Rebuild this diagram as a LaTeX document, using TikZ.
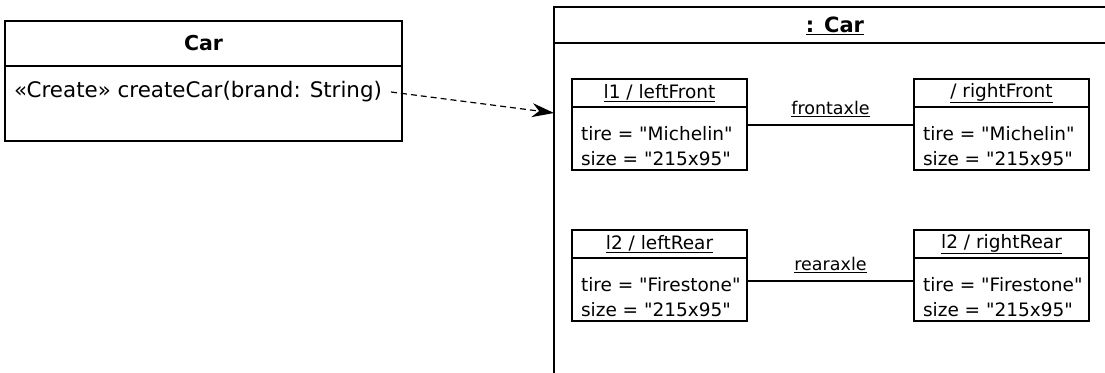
\documentclass[tikz,border=0pt]{standalone}
\usepackage{fontspec}
\newfontfamily\umlfont{DejaVu Sans}
\usetikzlibrary{arrows.meta,positioning}

\begin{document}
\begin{tikzpicture}[
    x=1pt, y=-1pt,
    every node/.style={font=\umlfont\fontsize{18.5}{25}\selectfont, outer sep=0pt},
    classhead/.style={draw=black, line width=1.5pt, minimum width=397pt, minimum height=45pt, inner sep=0pt, font=\umlfont\fontsize{20.5}{24}\selectfont\bfseries},
    classbody/.style={draw=black, line width=1.5pt, minimum width=397pt, minimum height=75pt, inner sep=0pt},
    objhead/.style={draw=black, line width=1.5pt, minimum width=175pt, minimum height=28pt, inner sep=0pt, font=\umlfont\fontsize{18.5}{24}\selectfont},
    objbody/.style={draw=black, line width=1.5pt, minimum width=175pt, minimum height=63pt, inner sep=0pt},
    attr/.style={anchor=north west, inner sep=0pt, align=left},
    frame/.style={draw=black, line width=1.5pt, minimum width=600pt, minimum height=400pt, inner sep=0pt},
    link/.style={draw=black, line width=1.5pt},
    dep/.style={-{Stealth[length=22pt, width=14pt, inset=7pt]}, line width=1.2pt, dash pattern=on 6pt off 4pt}
]
    \clip (0,0) rectangle (1105,372);

    % Class Car
    \node[classhead, anchor=north west] (carhead) at (5,21) {Car};
    \node[classbody, below=0pt of carhead] (carbody) {};
    \node[anchor=west, inner sep=0pt, font=\umlfont\fontsize{21.4}{24}\selectfont] (createop) at (14,92) {«Create» createCar(brand: String)};

    % Instance : Car
    \node[frame, anchor=north west] (carobj) at (554,7) {};
    \draw[link] (carobj.north west) ++(0,36) -- ++(600,0);
    \node[font=\umlfont\fontsize{21}{24}\selectfont\bfseries] (carname) at (835,26) {\underline{: Car}};

    % Front parts
    \node[objhead, anchor=north west] (lfhead) at (572,79) {\underline{l1 / leftFront}};
    \node[objbody, below=0pt of lfhead] (lfbody) {};
    \node[attr] (lfattr) at ([xshift=9pt, yshift=-19pt]lfbody.north west) {tire = "Michelin"\\size = "215x95"};
    \node[objhead, anchor=north west] (rfhead) at (914,79) {\underline{/ rightFront}};
    \node[objbody, below=0pt of rfhead] (rfbody) {};
    \node[attr] (rfattr) at ([xshift=9pt, yshift=-19pt]rfbody.north west) {tire = "Michelin"\\size = "215x95"};

    % Rear parts
    \node[objhead, anchor=north west] (lrhead) at (572,230) {\underline{l2 / leftRear}};
    \node[objbody, below=0pt of lrhead] (lrbody) {};
    \node[attr] (lrattr) at ([xshift=9pt, yshift=-19pt]lrbody.north west) {tire = "Firestone"\\size = "215x95"};
    \node[objhead, anchor=north west] (rrhead) at (914,230) {\underline{l2 / rightRear}};
    \node[objbody, below=0pt of rrhead] (rrbody) {};
    \node[attr] (rrattr) at ([xshift=9pt, yshift=-19pt]rrbody.north west) {tire = "Firestone"\\size = "215x95"};

    % Connections
    \draw[link] ([yshift=-18pt]lfbody.north east) -- node[above, inner sep=8pt, font=\umlfont\fontsize{17.5}{24}\selectfont] (frontaxle) {\underline{frontaxle}} ([yshift=-18pt]rfbody.north west);
    \draw[link] ([yshift=-23pt]lrbody.north east) -- node[above, inner sep=8pt, font=\umlfont\fontsize{17.5}{24}\selectfont] (rearaxle) {\underline{rearaxle}} ([yshift=-23pt]rrbody.north west);
    \coordinate (depend) at (554,113);
    \draw[dep] ([xshift=9pt]createop.east) -- (depend);

\end{tikzpicture}
\end{document}
